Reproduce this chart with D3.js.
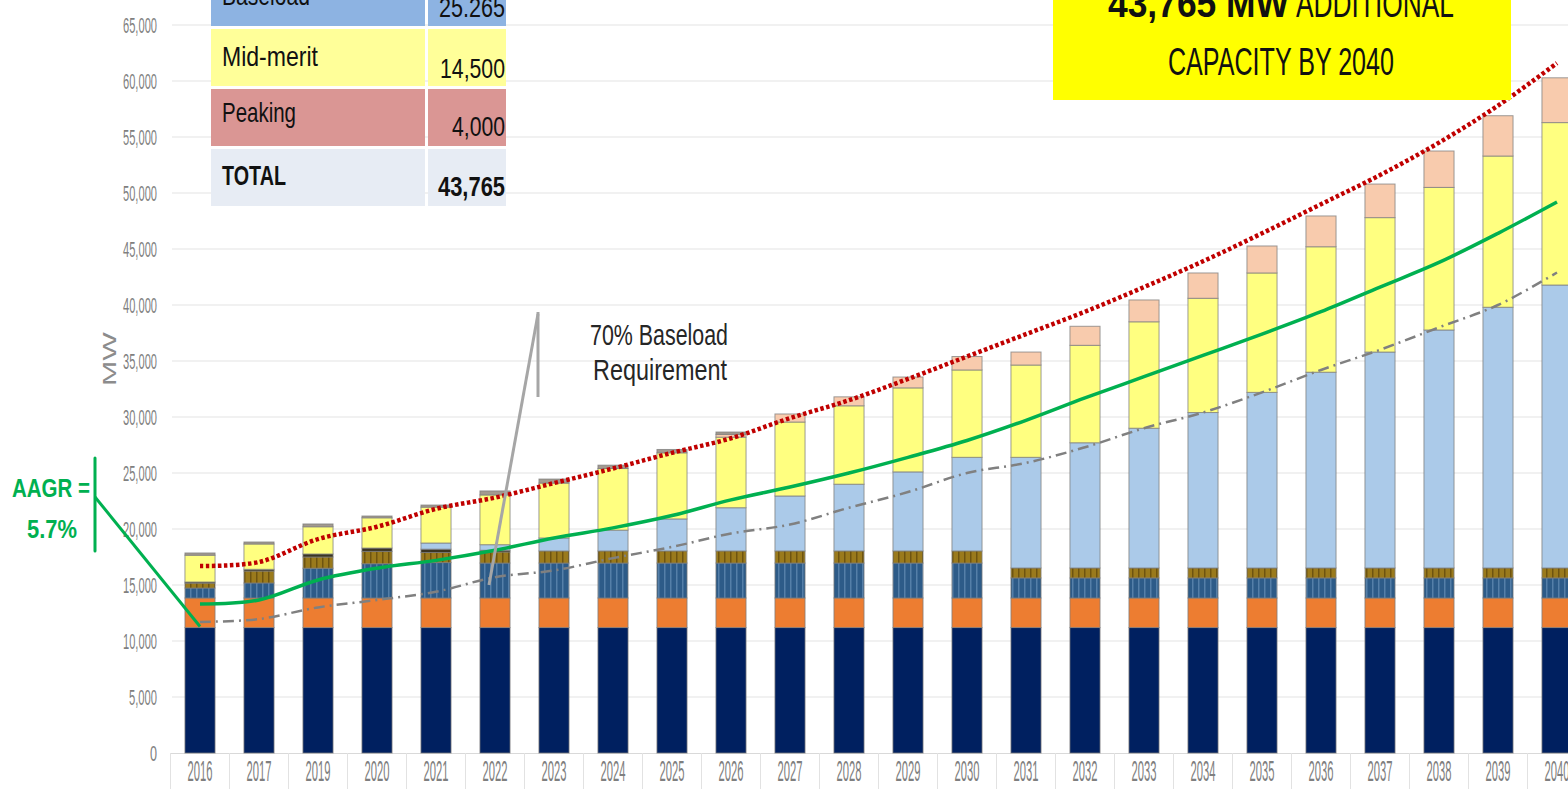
<!DOCTYPE html>
<html>
<head>
<meta charset="utf-8">
<script src="https://cdn.jsdelivr.net/npm/d3@7"></script>
<style>
  body { margin: 0; background: #fff; overflow: hidden; }
  text { font-family: "Liberation Sans Narrow", "Liberation Sans", Arial, sans-serif; }
</style>
</head>
<body>
<svg id="chart" width="1568" height="789"></svg>
<script>
// categories (2018 is missing in the source chart)
const years = ['2016','2017','2019','2020','2021','2022','2023','2024','2025','2026','2027','2028',
  '2029','2030','2031','2032','2033','2034','2035','2036','2037','2038','2039','2040'];

// stacked series, MW, bottom to top
const coal     = [11200,11200,11200,11200,11200,11200,11200,11200,11200,11200,11200,11200,
                  11200,11200,11200,11200,11200,11200,11200,11200,11200,11200,11200,11200];
const gas      = [2640,2640,2640,2640,2640,2640,2640,2640,2640,2640,2640,2640,
                  2640,2640,2640,2640,2640,2640,2640,2640,2640,2640,2640,2640];
const hydro    = [890,1340,2660,3060,3160,3120,3120,3120,3120,3120,3120,3120,
                  3120,3120,1790,1790,1790,1790,1790,1790,1790,1790,1790,1790];
const geo      = [440,1070,1000,1100,900,990,1080,1080,1080,1080,1080,1080,
                  1080,1080,890,890,890,890,890,890,890,890,890,890];
const oil      = [100,150,270,300,300,150,0,0,0,0,0,0,0,0,0,0,0,0,0,0,0,0,0,0];
const baseload = [0,0,0,0,550,500,1160,1860,2860,3860,4910,5960,
                  7060,8360,9880,11180,12480,13880,15680,17480,19280,21250,23280,25265];
const midmerit = [2390,2260,2430,2700,3200,4440,4900,5500,5900,6300,6600,7000,
                  7500,7800,8240,8700,9500,10200,10660,11200,12000,12730,13500,14500];
const peaking  = [0,0,0,0,0,0,0,0,0,250,720,800,970,1200,1160,1700,1950,2260,2410,2750,3000,3250,3600,4000];
const others   = [200,180,250,160,190,360,360,300,300,210,0,0,0,0,0,0,0,0,0,0,0,0,0,0];

// line series, MW
const reserveLine  = [16700,17050,19100,20200,21800,22800,24100,25400,26800,28100,29900,31500,
                      33400,35400,37400,39400,41600,43900,46400,49000,51600,54500,57800,61600];
const demandLine   = [13300,13660,15450,16500,17200,18100,19200,20100,21200,22600,23750,25000,
                      26400,27900,29700,31700,33600,35500,37400,39400,41600,43800,46400,49200];
const baseloadReq  = [11700,11960,13000,13660,14400,15700,16300,17400,18400,19600,20400,21900,
                      23300,25000,25900,27300,29000,30400,32200,34200,36000,38000,40000,42900];

const yTicks = [0,5000,10000,15000,20000,25000,30000,35000,40000,45000,50000,55000,60000,65000];

// summary table
const tableLabels = ['Baseload','Mid-merit','Peaking','TOTAL'];
const tableValues = ['25.265','14,500','4,000','43,765'];

const keys = ['coal','gas','hydro','geo','oil','baseload','midmerit','peaking','others'];
const fills = {
  coal: '#002060', gas: '#ed7d31', hydro: 'url(#pHydro)', geo: 'url(#pGeo)', oil: '#3b3522',
  baseload: '#abcae9', midmerit: '#ffff80', peaking: '#f8cbad', others: '#a39a8f'
};

const svg = d3.select('#chart');
const defs = svg.append('defs');

function stripes(id, base, stripe) {
  const p = defs.append('pattern').attr('id', id)
    .attr('patternUnits', 'userSpaceOnUse').attr('width', 6).attr('height', 10);
  p.append('rect').attr('width', 6).attr('height', 10).attr('fill', base);
  p.append('rect').attr('x', 4).attr('width', 1.5).attr('height', 10).attr('fill', stripe);
}
stripes('pHydro', '#2d5b88', '#557fa8');
stripes('pGeo', '#9a7a1c', '#6e5410');

const x = d3.scaleBand().domain(years).range([170.5, 1586.5]).paddingInner(0.49).paddingOuter(0.245);
const y = d3.scaleLinear().domain([0, 65000]).range([753, 25]);
const bw = x.bandwidth();
const cx = d => x(d) + bw / 2;

// gridlines
svg.append('g').selectAll('line').data(yTicks.slice(1)).join('line')
  .attr('x1', 172).attr('x2', 1568)
  .attr('y1', d => y(d)).attr('y2', d => y(d))
  .attr('stroke', '#ececec').attr('stroke-width', 1.5);

// y axis labels
const yAxis = svg.append('g').attr('transform', 'translate(157,0)')
  .call(d3.axisLeft(y).tickValues(yTicks).tickFormat(d3.format(',')).tickSize(0).tickPadding(0));
yAxis.select('.domain').remove();
yAxis.selectAll('text')
  .attr('fill', '#7f7f7f').attr('font-size', 22).attr('dy', '0.36em')
  .attr('textLength', d => d === 0 ? 7 : (d < 10000 ? 28 : 34))
  .attr('lengthAdjust', 'spacingAndGlyphs');

// x axis
svg.append('line').attr('x1', 170.5).attr('x2', 1568).attr('y1', 753.5).attr('y2', 753.5)
  .attr('stroke', '#d9d9d9');
svg.append('g').selectAll('line').data(years).join('line')
  .attr('x1', d => x(d) - x.step() * 0.245).attr('x2', d => x(d) - x.step() * 0.245)
  .attr('y1', 753).attr('y2', 789).attr('stroke', '#e2e2e2');
svg.append('g').selectAll('text').data(years).join('text')
  .attr('transform', d => `translate(${cx(d)},781) scale(1,1.3)`)
  .attr('text-anchor', 'middle')
  .attr('font-size', 22).attr('fill', '#7f7f7f')
  .attr('textLength', 25).attr('lengthAdjust', 'spacingAndGlyphs')
  .text(d => d);

// MW title
svg.append('text').attr('transform', 'translate(116,359) rotate(-90)')
  .attr('text-anchor', 'middle').attr('font-size', 18).attr('fill', '#8c8c8c')
  .attr('textLength', 54).attr('lengthAdjust', 'spacingAndGlyphs').text('MW');

// stacked bars
const rows = years.map((yr, i) => ({
  year: yr, coal: coal[i], gas: gas[i], hydro: hydro[i], geo: geo[i], oil: oil[i],
  baseload: baseload[i], midmerit: midmerit[i], peaking: peaking[i], others: others[i]
}));
const stacked = d3.stack().keys(keys)(rows);

svg.append('g').selectAll('g').data(stacked).join('g')
  .attr('fill', s => fills[s.key])
  .selectAll('rect').data(s => s.filter(d => d[1] > d[0])).join('rect')
  .attr('x', d => x(d.data.year)).attr('width', bw)
  .attr('y', d => y(d[1])).attr('height', d => y(d[0]) - y(d[1]))
  .attr('stroke', '#7d7d7d').attr('stroke-width', 1).attr('stroke-opacity', 0.75);

// lines
const line = d3.line().x((v, i) => cx(years[i])).y(v => y(v)).curve(d3.curveCatmullRom.alpha(0.5));

svg.append('path').attr('d', line(baseloadReq)).attr('fill', 'none')
  .attr('stroke', '#808080').attr('stroke-width', 2.5).attr('stroke-dasharray', '11,5,2,5');
svg.append('path').attr('d', line(demandLine)).attr('fill', 'none')
  .attr('stroke', '#00b050').attr('stroke-width', 3.5);
svg.append('path').attr('d', line(reserveLine)).attr('fill', 'none')
  .attr('stroke', '#c00000').attr('stroke-width', 4.5).attr('stroke-dasharray', '3.5,2.5');

// AAGR annotation
const aagr = svg.append('g');
aagr.append('line').attr('x1', 95).attr('x2', 95).attr('y1', 458).attr('y2', 551)
  .attr('stroke', '#00b050').attr('stroke-width', 3).attr('stroke-linecap', 'round');
aagr.append('line').attr('x1', 95).attr('y1', 497).attr('x2', cx('2016')).attr('y2', y(11300))
  .attr('stroke', '#00b050').attr('stroke-width', 3);
aagr.append('text').attr('x', 12).attr('y', 497).attr('font-size', 26).attr('font-weight', 'bold')
  .attr('fill', '#00b050').attr('textLength', 78).attr('lengthAdjust', 'spacingAndGlyphs').text('AAGR =');
aagr.append('text').attr('x', 27).attr('y', 538).attr('font-size', 26).attr('font-weight', 'bold')
  .attr('fill', '#00b050').attr('textLength', 50).attr('lengthAdjust', 'spacingAndGlyphs').text('5.7%');

// 70% baseload annotation
const note = svg.append('g');
note.append('line').attr('x1', 538).attr('x2', 538).attr('y1', 312).attr('y2', 397)
  .attr('stroke', '#a6a6a6').attr('stroke-width', 3);
note.append('line').attr('x1', 538).attr('y1', 314).attr('x2', 489).attr('y2', 585)
  .attr('stroke', '#a6a6a6').attr('stroke-width', 3);
note.append('text').attr('x', 590).attr('y', 345).attr('font-size', 30).attr('fill', '#262626')
  .attr('textLength', 138).attr('lengthAdjust', 'spacingAndGlyphs').text('70% Baseload');
note.append('text').attr('x', 593).attr('y', 380).attr('font-size', 30).attr('fill', '#262626')
  .attr('textLength', 134).attr('lengthAdjust', 'spacingAndGlyphs').text('Requirement');

// summary table
const rowTop = [-30, 29, 89, 149];
const rowH = [56, 57, 57, 57];
const rowFill = ['#8db3e2', '#ffff99', '#da9694', '#e7ecf4'];
const labelBase = [5, 66, 122, 185];
const valueBase = [17, 78, 136, 196];
const labelW = [88, 96, 74, 64];
const valueW = [66, 65, 53, 67];
const table = svg.append('g');
tableLabels.forEach((lab, i) => {
  table.append('rect').attr('x', 211).attr('y', rowTop[i]).attr('width', 214).attr('height', rowH[i]).attr('fill', rowFill[i]);
  table.append('rect').attr('x', 428).attr('y', rowTop[i]).attr('width', 78).attr('height', rowH[i]).attr('fill', rowFill[i]);
  table.append('text').attr('x', 222).attr('y', labelBase[i]).attr('font-size', 28)
    .attr('font-weight', i === 3 ? 'bold' : 'normal').attr('fill', '#111')
    .attr('textLength', labelW[i]).attr('lengthAdjust', 'spacingAndGlyphs').text(lab);
  table.append('text').attr('x', 505).attr('y', valueBase[i]).attr('font-size', 28).attr('text-anchor', 'end')
    .attr('font-weight', i === 3 ? 'bold' : 'normal').attr('fill', '#111')
    .attr('textLength', valueW[i]).attr('lengthAdjust', 'spacingAndGlyphs').text(tableValues[i]);
});

// headline box
const box = svg.append('g');
box.append('rect').attr('x', 1053).attr('y', -5).attr('width', 458).attr('height', 105).attr('fill', '#ffff00');
box.append('text').attr('x', 1108).attr('y', 17).attr('font-size', 38).attr('font-weight', 'bold').attr('fill', '#111')
  .attr('textLength', 181).attr('lengthAdjust', 'spacingAndGlyphs').text('43,765 MW');
box.append('text').attr('x', 1296).attr('y', 17).attr('font-size', 38).attr('fill', '#111')
  .attr('textLength', 158).attr('lengthAdjust', 'spacingAndGlyphs').text('ADDITIONAL');
box.append('text').attr('x', 1168).attr('y', 75).attr('font-size', 38).attr('fill', '#111')
  .attr('textLength', 226).attr('lengthAdjust', 'spacingAndGlyphs').text('CAPACITY BY 2040');
</script>
</body>
</html>
